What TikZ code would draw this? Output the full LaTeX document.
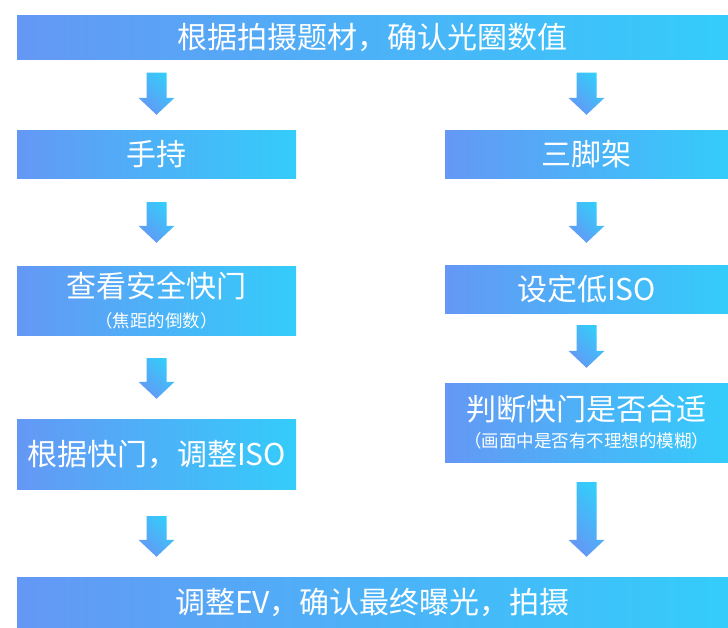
\documentclass[tikz,border=0pt]{standalone}
\usepackage{fontspec}
\setmainfont{Noto Sans CJK SC}
\usetikzlibrary{
  calc,
  positioning
}
\definecolor{flowblue}{RGB}{100,152,245}
\definecolor{flowcyan}{RGB}{52,204,250}
% block arrow between two boxes: column, from, to, top gap, bottom gap
\newcommand{\flowarrow}[5]{%
  \shade[arrowshade] let \p1=(#1.north |- #2.south), \p2=(#1.north |- #3.north) in
    (\x1-10pt,\y1-#4pt) -- (\x1+10pt,\y1-#4pt)
    -- (\x1+10pt,\y2+#5pt+17pt) -- (\x1+18pt,\y2+#5pt+17pt)
    -- (\x1,\y2+#5pt) -- (\x1-18pt,\y2+#5pt+17pt)
    -- (\x1-10pt,\y2+#5pt+17pt) -- cycle;}
\tikzset{
  flowbox/.style={
    rectangle, left color=flowblue, right color=flowcyan,
    text=white, align=center, inner sep=0pt,
    font=\fontsize{30}{34}\selectfont
  },
  widebox/.style={
    flowbox, minimum width=711pt, minimum height=44pt
  },
  leftbox/.style={
    flowbox, minimum width=279pt, minimum height=48pt
  },
  rightbox/.style={
    flowbox, minimum width=283pt, minimum height=48pt
  },
  arrowshade/.style={
    left color=flowblue, right color=flowcyan, shading angle=135
  },
}
\newcommand{\notetext}[1]{{\fontsize{17.5}{20}\selectfont #1}}

\begin{document}
\begin{tikzpicture}[x=1pt, y=-1pt]
  \useasboundingbox (0,0) rectangle (728,627);

  %% Top and bottom
  \node[widebox] (aperture) at (372.5,37.5) {根据拍摄题材，确认光圈数值};
  \node[widebox, minimum height=50pt] (shoot) at (372.5,602)
    {调整EV，确认最终曝光，拍摄};

  %% Left column — handheld
  \node[leftbox] (hand) at (156.5,154) {手持};
  \node[leftbox, minimum height=69pt] (safe) at (156.5,300.5)
    {查看安全快门\\[-4pt]\notetext{（焦距的倒数）}};
  \node[leftbox, minimum height=70pt] (adjiso) at (156.5,454)
    {根据快门，调整ISO};

  %% Right column — tripod
  \node[rightbox] (tripod) at (586.5,154) {三脚架};
  \node[rightbox] (lowiso) at (586.5,289) {设定低ISO};
  \node[rightbox, minimum height=79pt] (judge) at (586.5,422.5)
    {判断快门是否合适\\[-7pt]\notetext{（画面中是否有不理想的模糊）}};

  %% Arrows
  \flowarrow{hand}{aperture}{hand}{13}{15}
  \flowarrow{hand}{hand}{safe}{24}{23}
  \flowarrow{hand}{safe}{adjiso}{23}{20}
  \flowarrow{hand}{adjiso}{shoot}{27}{20}
  \flowarrow{tripod}{aperture}{tripod}{13}{15}
  \flowarrow{tripod}{tripod}{lowiso}{24}{22}
  \flowarrow{tripod}{lowiso}{judge}{12}{15}
  \flowarrow{tripod}{judge}{shoot}{20}{20}

\end{tikzpicture}
\end{document}
